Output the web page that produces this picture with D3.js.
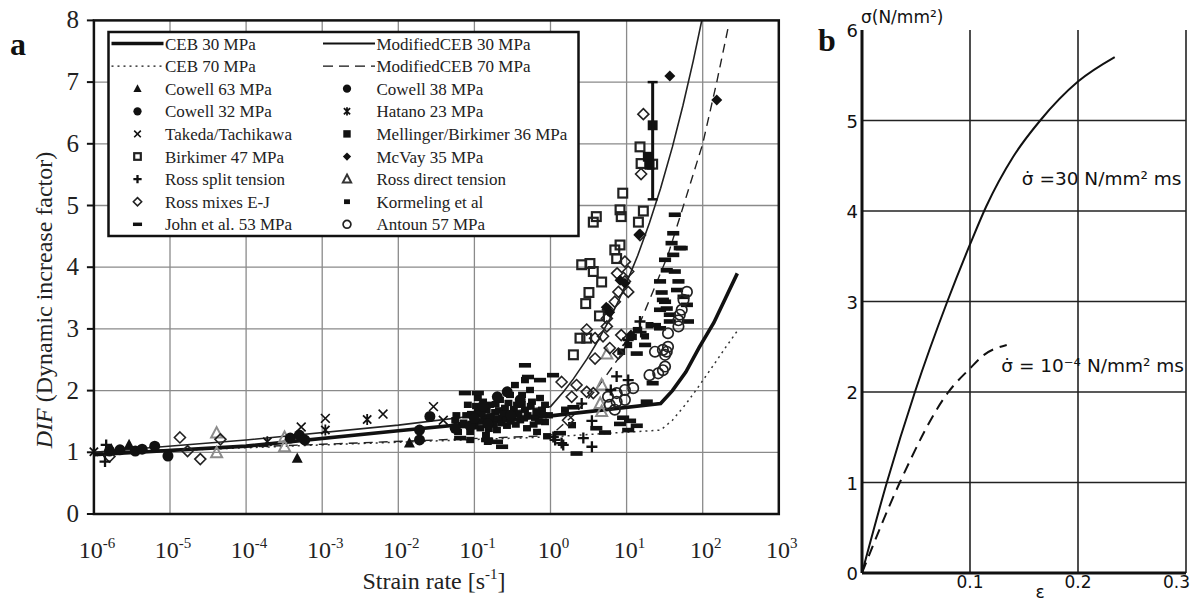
<!DOCTYPE html>
<meta charset="utf-8">
<style>
	body { margin: 0; background: #fff; }
	svg { display: block; }
	.serif { font-family: "Liberation Serif", "Times New Roman", serif; }
	.sans { font-family: "DejaVu Sans", "Liberation Sans", sans-serif; }
</style>
<svg width="1191" height="603"></svg>
<script src="https://d3js.org/d3.v7.min.js"></script>
<script>

// ---------- panel a : DIF vs strain rate, points are [strain rate 1/s, DIF]
var xExps = [-6, -5, -4, -3, -2, -1, 0, 1, 2, 3];
var yTicksA = [0, 1, 2, 3, 4, 5, 6, 7, 8];

var ceb30 = [[1e-6,0.96],[1e-4,1.10],[1e-2,1.35],[1,1.59],[28,1.79],[40,2.0],[60,2.3],[90,2.7],[140,3.1],[200,3.5],[285,3.9]];
var ceb70 = [[1e-6,0.98],[1e-3,1.12],[1,1.25],[28,1.36],[40,1.52],[60,1.78],[90,2.08],[140,2.42],[200,2.7],[290,2.98]];
var modCeb30 = [[1e-6,1.0],[1e-4,1.20],[1e-2,1.44],[1,1.74],[1.5,1.99],[2,2.19],[3,2.51],[4,2.76],[6,3.16],[8,3.48],[10,3.75],[14,4.19],[20,4.72],[28,5.28],[40,5.95],[55,6.62],[75,7.34],[100,8.07]];
var modCeb70 = [[1e-6,1.0],[1e-3,1.13],[1,1.27],[2,1.6],[4,2.02],[8,2.54],[15,3.1],[23,3.65],[35,4.2],[56,5.0],[100,6.0],[153,7.0],[220,7.93]];

var cowell63 = [[1.7e-6,1.05],[2.9e-6,1.12],[4.7e-4,0.90],[1.4e-2,1.15]];
var cowell38 = [[6.3e-6,1.10],[9.4e-6,0.94],[5.0e-4,1.28],[5.9e-4,1.20],[1.9e-2,1.36],[2.6e-2,1.58],[0.27,1.98],[0.20,1.90],[0.1,1.55],[0.13,1.75],[0.3,1.6]];
var cowell32 = [[1.6e-6,1.02],[2.2e-6,1.04],[3.5e-6,1.02],[4.3e-6,1.05],[3.8e-4,1.23],[1.9e-2,1.20],[0.12,1.65],[8.8e-2,1.43],[0.15,1.46],[5.6e-2,1.39],[0.40,1.85]];
var hatano23 = [[1.0e-6,1.01],[1.9e-4,1.17],[1.1e-3,1.36],[3.9e-3,1.53],[10,2.79]];
var takeda = [[5.3e-4,1.41],[1.1e-3,1.55],[6.3e-3,1.62],[2.9e-2,1.74],[3.9e-2,1.52]];
var mellinger36 = [[22,6.30],[19,5.79],[20,5.66]];
var mellingerBar = [22, 5.1, 7.0];   // rate, low, high
var birkimer47 = [[15,5.95],[15.5,5.68],[22,5.67],[8.9,5.20],[8.2,4.93],[8.5,4.82],[16.6,4.91],[14.3,4.73],[4.0,4.82],[3.65,4.73],[7.0,4.28],[8.2,4.36],[7.4,4.14],[2.57,4.04],[3.3,4.06],[3.65,3.93],[4.7,3.76],[3.2,3.59],[2.9,3.41],[4.4,3.21],[2.44,2.85],[2.99,2.85],[2.0,2.58]];
var mcvay35 = [[37,7.10],[153,6.71],[14.6,4.53],[8.2,3.79],[9.5,3.74],[5.4,3.35],[6.0,3.27],[11.4,2.90]];
var rossSplit = [[1.45e-6,1.12],[1.4e-6,0.85],[1.09,1.25],[1.4,1.15],[1.15,1.20],[1.47,1.12],[2.7,1.23],[3.5,1.09],[2.57,1.79],[3.5,1.51],[7.4,2.23],[10.5,2.17],[15,3.12],[15.5,2.95],[10.5,2.82],[6.2,2.01]];
var rossDirect = [[4.1e-5,1.31],[4.1e-5,0.99],[3.2e-4,1.24],[3.2e-4,1.09],[4.7,2.09],[4.5,1.79],[4.7,1.66],[5.5,2.59]];
var rossMixes = [[1.6e-6,0.93],[1.35e-5,1.24],[1.7e-5,1.02],[2.5e-5,0.89],[4.6e-5,1.21],[1.4,2.14],[1.9,1.90],[1.7,1.52],[2.2,2.09],[2.99,1.98],[3.65,1.96],[3.85,2.52],[7.8,2.60],[15,4.52],[9.5,4.09],[7.5,3.90],[10.5,3.93],[9.5,3.77],[10.5,3.60],[7.8,3.60],[7.0,3.44],[5.7,3.31],[5.5,3.17],[5.5,3.04],[2.99,2.99],[3.85,2.85],[4.9,2.88],[8.5,2.90],[6.0,2.69],[16.6,6.48],[15.5,5.51]];
var kormeling = [[6.9e-2,1.44],[7.8e-2,1.60],[8.8e-2,1.33],[9.9e-2,1.52],[0.111,1.69],[0.12,1.39],[0.134,1.56],[0.142,1.28],[0.16,1.77],[0.17,1.49],[0.187,1.65],[0.198,1.36],[0.217,1.85],[0.231,1.56],[0.252,1.72],[0.268,1.43],[0.294,1.93],[0.312,1.60],[0.341,2.09],[0.363,1.77],[0.40,1.52],[0.423,1.93],[0.462,1.69],[0.491,1.39],[0.538,2.01],[0.571,1.82],[0.625,1.56],[0.665,1.33],[0.728,1.88],[0.773,1.69],[0.847,1.49],[0.90,1.26],[0.15,1.17],[8.8e-2,1.20],[5.6e-2,1.52],[6.1e-2,1.33],[0.847,1.77],[0.955,1.60],[0.111,1.88],[8.2e-2,1.77],[0.462,2.17],[1.55,1.69],[1.92,1.44],[10.5,2.74],[12.1,2.87],[13.6,2.98],[8.5,2.63],[17.5,2.88],[20,3.06],
	[0.09,1.62],[0.1,1.42],[0.105,1.75],[0.125,1.5],[0.13,1.82],[0.145,1.68],[0.155,1.38],[0.165,1.58],[0.18,1.45],[0.19,1.78],[0.2,1.55],[0.21,1.68],[0.225,1.47],[0.24,1.62],[0.26,1.53],[0.28,1.8],[0.3,1.5],[0.33,1.7],[0.35,1.45],[0.38,1.62],[0.42,1.78],[0.45,1.55],[0.5,1.6],[0.55,1.75],[0.6,1.45],[0.65,1.65],[0.7,1.5],[0.8,1.6],[0.058,1.6],[0.072,1.48]];
var john53 = [[7.5e-2,1.96],[0.111,1.96],[6.5e-2,1.23],[0.147,1.20],[0.231,1.09],[0.198,1.17],[0.462,2.41],[0.506,2.22],[0.728,2.17],[1.08,2.25],[2.0,1.73],[4.0,1.39],[5.2,1.32],[8.2,1.46],[11.1,1.51],[10.5,1.36],[13.6,1.43],[18.4,1.82],[22,2.12],[2.2,0.98],[1.33,1.31],[13.6,2.60],[39,4.39],[53,4.31],[41,4.20],[32,4.12],[43,3.93],[27.5,3.77],[48,3.77],[28.9,3.59],[46,3.63],[32,3.44],[33.7,3.33],[62,3.39],[37,3.23],[64,3.12],[23.6,3.06],[27.5,3.01],[37,3.12],[56,3.52],[43,4.85],[41,4.55],[50,4.31],[30,3.47],[27.5,3.31],[33.7,3.95],[17.5,2.74],[9.0,1.56]];
var antoun57 = [[5.7,1.90],[7.4,1.96],[9.5,2.01],[12.2,2.04],[7.0,1.69],[9.5,1.85],[7.4,1.82],[6.0,1.77],[20,2.25],[26,2.28],[30,2.33],[23.6,2.63],[33.7,2.63],[62,3.60],[56,3.47],[53,3.31],[50,3.23],[48,3.14],[48,3.04],[35,2.93],[30,2.66],[35,2.71],[32,2.58],[32,2.39]];

// ---------- panel b : stress vs strain, points are [strain, stress N/mm2]
var xTicksB = [0.1, 0.2, 0.3];
var yTicksB = [0, 1, 2, 3, 4, 5, 6];
var fastCurve = [[0,0],[0.023,1],[0.049,2],[0.079,3],[0.1,3.63],[0.115,4.05],[0.14,4.6],[0.165,5],[0.2,5.43],[0.234,5.70]];
var slowCurve = [[0,0],[0.035,1],[0.080,2],[0.1,2.26],[0.113,2.41],[0.134,2.52]];

var svg = d3.select("svg");

// ================= panel a =================
var xA = d3.scaleLog().domain([1e-6, 1e3]).range([93.9, 778.8]);
var yA = d3.scaleLinear().domain([0, 8]).range([514, 20.4]);

svg.append("defs").append("clipPath").attr("id", "clipA")
	.append("rect").attr("x", 93.9).attr("y", 20.4).attr("width", 778.8 - 93.9).attr("height", 514 - 20.4);

var ga = svg.append("g");

// grid
ga.selectAll(".vg").data(xExps.slice(1, -1)).enter().append("line")
	.attr("x1", function(d) { return xA(Math.pow(10, d)); })
	.attr("x2", function(d) { return xA(Math.pow(10, d)); })
	.attr("y1", yA(0)).attr("y2", yA(8))
	.attr("stroke", "#8a8a8a").attr("stroke-width", 1.3);
ga.selectAll(".hg").data(yTicksA.slice(1, -1)).enter().append("line")
	.attr("x1", xA(1e-6)).attr("x2", xA(1e3))
	.attr("y1", function(d) { return yA(d); })
	.attr("y2", function(d) { return yA(d); })
	.attr("stroke", "#8a8a8a").attr("stroke-width", 1.3);

// y ticks
ga.selectAll(".yt").data(yTicksA).enter().append("line")
	.attr("x1", xA(1e-6) - 7).attr("x2", xA(1e-6))
	.attr("y1", function(d) { return yA(d); })
	.attr("y2", function(d) { return yA(d); })
	.attr("stroke", "#111").attr("stroke-width", 2);

var lineA = d3.line()
	.x(function(d) { return xA(d[0]); })
	.y(function(d) { return yA(d[1]); });

var curves = ga.append("g").attr("clip-path", "url(#clipA)");
curves.append("path").attr("d", lineA(ceb70)).attr("fill", "none").attr("stroke", "#333").attr("stroke-width", 1.5).attr("stroke-dasharray", "2,4");
curves.append("path").attr("d", lineA(modCeb70)).attr("fill", "none").attr("stroke", "#222").attr("stroke-width", 1.4).attr("stroke-dasharray", "9,6");
curves.append("path").attr("d", lineA(modCeb30)).attr("fill", "none").attr("stroke", "#222").attr("stroke-width", 1.6);
curves.append("path").attr("d", lineA(ceb30)).attr("fill", "none").attr("stroke", "#111").attr("stroke-width", 3.6);

// marker shapes
function drawMarker(g, type, k) {
	k = k || 1;
	var s = 5.5 * k;
	if (type == "triFill") {
		g.append("path").attr("d", "M0," + (-1.1 * s) + "L" + s + "," + (0.8 * s) + "L" + (-s) + "," + (0.8 * s) + "Z").attr("fill", "#111");
	} else if (type == "triOpen") {
		g.append("path").attr("d", "M0," + (-1.1 * s) + "L" + s + "," + (0.8 * s) + "L" + (-s) + "," + (0.8 * s) + "Z").attr("fill", "none").attr("stroke", k < 1 ? "#333" : "#8c8c8c").attr("stroke-width", 2);
	} else if (type == "circFill") {
		g.append("circle").attr("r", s).attr("fill", "#111");
	} else if (type == "circOpen") {
		g.append("circle").attr("r", s * 0.95).attr("fill", "none").attr("stroke", "#222").attr("stroke-width", 1.7);
	} else if (type == "sqOpen") {
		g.append("rect").attr("x", -0.8 * s).attr("y", -0.8 * s).attr("width", 1.6 * s).attr("height", 1.6 * s).attr("fill", "none").attr("stroke", "#222").attr("stroke-width", 2.2);
	} else if (type == "sqFill") {
		g.append("rect").attr("x", -0.9 * s).attr("y", -0.9 * s).attr("width", 1.8 * s).attr("height", 1.8 * s).attr("fill", "#111");
	} else if (type == "diaFill") {
		g.append("path").attr("d", "M0," + (-s) + "L" + s + ",0L0," + s + "L" + (-s) + ",0Z").attr("fill", "#111");
	} else if (type == "diaOpen") {
		g.append("path").attr("d", "M0," + (-s) + "L" + s + ",0L0," + s + "L" + (-s) + ",0Z").attr("fill", "none").attr("stroke", "#222").attr("stroke-width", 1.6);
	} else if (type == "plus") {
		g.append("path").attr("d", "M" + (-s) + ",0H" + s + "M0," + (-s) + "V" + s).attr("stroke", "#111").attr("stroke-width", 2.3);
	} else if (type == "cross") {
		var c = 0.8 * s;
		g.append("path").attr("d", "M" + (-c) + "," + (-c) + "L" + c + "," + c + "M" + c + "," + (-c) + "L" + (-c) + "," + c).attr("stroke", "#111").attr("stroke-width", 1.6);
	} else if (type == "aster") {
		var a = 0.75 * s;
		g.append("path").attr("d", "M" + (-a) + "," + (-a) + "L" + a + "," + a + "M" + a + "," + (-a) + "L" + (-a) + "," + a + "M0," + (-s) + "V" + s).attr("stroke", "#111").attr("stroke-width", 1.8);
	} else if (type == "dash") {
		g.append("rect").attr("x", -1.1 * s).attr("y", -0.42 * s).attr("width", 2.2 * s).attr("height", 0.84 * s).attr("fill", "#111");
	} else if (type == "rectSmall") {
		g.append("rect").attr("x", -0.72 * s).attr("y", -0.58 * s).attr("width", 1.44 * s).attr("height", 1.16 * s).attr("fill", "#111");
	}
}

var pointSeries = [
	{data: kormeling, m: "rectSmall"},
	{data: john53, m: "dash"},
	{data: rossDirect, m: "triOpen"},
	{data: rossMixes, m: "diaOpen"},
	{data: birkimer47, m: "sqOpen"},
	{data: antoun57, m: "circOpen"},
	{data: rossSplit, m: "plus"},
	{data: takeda, m: "cross"},
	{data: hatano23, m: "aster"},
	{data: cowell32, m: "circFill"},
	{data: cowell38, m: "circFill"},
	{data: cowell63, m: "triFill"},
	{data: mcvay35, m: "diaFill"},
	{data: mellinger36, m: "sqFill"}
];

var pts = ga.append("g");
pointSeries.forEach(function(s) {
	s.data.forEach(function(d) {
		var g = pts.append("g").attr("transform", "translate(" + xA(d[0]) + "," + yA(d[1]) + ")");
		drawMarker(g, s.m, 1);
	});
});

// error bar
var eb = ga.append("g").attr("stroke", "#111");
eb.append("line").attr("x1", xA(mellingerBar[0])).attr("x2", xA(mellingerBar[0]))
	.attr("y1", yA(mellingerBar[1])).attr("y2", yA(mellingerBar[2])).attr("stroke-width", 3);
[mellingerBar[1], mellingerBar[2]].forEach(function(v) {
	eb.append("line").attr("x1", xA(mellingerBar[0]) - 5).attr("x2", xA(mellingerBar[0]) + 5)
		.attr("y1", yA(v)).attr("y2", yA(v)).attr("stroke-width", 2.5);
});

// frame
ga.append("rect").attr("x", xA(1e-6)).attr("y", yA(8))
	.attr("width", xA(1e3) - xA(1e-6)).attr("height", yA(0) - yA(8))
	.attr("fill", "none").attr("stroke", "#111").attr("stroke-width", 2.5);

// legend
var legendRows = [
	[{name: "CEB 30 MPa", line: "thick"}, {name: "ModifiedCEB 30 MPa", line: "thin"}],
	[{name: "CEB 70 MPa", line: "dot"}, {name: "ModifiedCEB 70 MPa", line: "dash"}],
	[{name: "Cowell 63 MPa", m: "triFill"}, {name: "Cowell 38 MPa", m: "circFill"}],
	[{name: "Cowell 32 MPa", m: "circFill"}, {name: "Hatano 23 MPa", m: "aster"}],
	[{name: "Takeda/Tachikawa", m: "cross"}, {name: "Mellinger/Birkimer 36 MPa", m: "sqFill"}],
	[{name: "Birkimer 47 MPa", m: "sqOpen"}, {name: "McVay 35 MPa", m: "diaFill"}],
	[{name: "Ross split tension", m: "plus"}, {name: "Ross direct tension", m: "triOpen"}],
	[{name: "Ross mixes E-J", m: "diaOpen"}, {name: "Kormeling et al", m: "rectSmall"}],
	[{name: "John et al. 53 MPa", m: "dash"}, {name: "Antoun 57 MPa", m: "circOpen"}]
];

var lg = svg.append("g");
lg.append("rect").attr("x", 108.5).attr("y", 32).attr("width", 470).attr("height", 204)
	.attr("fill", "#fff").attr("stroke", "#111").attr("stroke-width", 2.5);
var colX = [{l0: 111.5, l1: 163.5, mk: 137.5, tx: 165}, {l0: 323, l1: 375, mk: 347, tx: 376.5}];
legendRows.forEach(function(row, i) {
	var cy = 43.5 + i * 22.6;
	row.forEach(function(item, j) {
		var c = colX[j];
		if (item.line) {
			var ln = lg.append("line").attr("x1", c.l0).attr("x2", c.l1).attr("y1", cy).attr("y2", cy).attr("stroke", "#111");
			if (item.line == "thick") ln.attr("stroke-width", 3.6);
			if (item.line == "thin") ln.attr("stroke-width", 2);
			if (item.line == "dot") ln.attr("stroke-width", 1.3).attr("stroke-dasharray", "2,4");
			if (item.line == "dash") ln.attr("stroke-width", 1.4).attr("stroke-dasharray", "10,6");
		} else {
			drawMarker(lg.append("g").attr("transform", "translate(" + c.mk + "," + cy + ")"), item.m, 0.75);
		}
		lg.append("text").attr("class", "serif").attr("x", c.tx).attr("y", cy + 6)
			.attr("font-size", 17).attr("fill", "#222").text(item.name);
	});
});

// axis labels
svg.selectAll(".ylab").data(yTicksA).enter().append("text")
	.attr("class", "serif").attr("x", 79).attr("y", function(d) { return yA(d) + 8; })
	.attr("text-anchor", "end").attr("font-size", 25).attr("fill", "#222")
	.text(function(d) { return d; });

xExps.forEach(function(e) {
	var t = svg.append("text").attr("class", "serif")
		.attr("x", xA(Math.pow(10, e)) + 3).attr("y", 558)
		.attr("text-anchor", "middle").attr("font-size", 24).attr("fill", "#222");
	t.append("tspan").text("10");
	t.append("tspan").attr("font-size", 15).attr("dy", -10).text(e);
});

var xt = svg.append("text").attr("class", "serif").attr("x", 434).attr("y", 589)
	.attr("text-anchor", "middle").attr("font-size", 24).attr("fill", "#222");
xt.append("tspan").text("Strain rate [s");
xt.append("tspan").attr("font-size", 15).attr("dy", -10).text("-1");
xt.append("tspan").attr("dy", 10).text("]");

var yt = svg.append("text").attr("class", "serif")
	.attr("transform", "translate(52,300) rotate(-90)")
	.attr("text-anchor", "middle").attr("font-size", 24).attr("fill", "#222");
yt.append("tspan").attr("font-style", "italic").text("DIF");
yt.append("tspan").text(" (Dynamic increase factor)");

svg.append("text").attr("class", "serif").attr("x", 10).attr("y", 55)
	.attr("font-size", 32).attr("font-weight", "bold").attr("fill", "#111").text("a");

// ================= panel b =================
var xB = d3.scaleLinear().domain([0, 0.3]).range([862, 1186]);
var yB = d3.scaleLinear().domain([0, 6]).range([573, 30]);
var gb = svg.append("g");

gb.selectAll(".hb").data(yTicksB.slice(1, -1)).enter().append("line")
	.attr("x1", xB(0)).attr("x2", xB(0.3))
	.attr("y1", function(d) { return yB(d); }).attr("y2", function(d) { return yB(d); })
	.attr("stroke", "#222").attr("stroke-width", 1.6);
gb.selectAll(".vb").data(xTicksB).enter().append("line")
	.attr("x1", function(d) { return xB(d); }).attr("x2", function(d) { return xB(d); })
	.attr("y1", yB(0)).attr("y2", yB(6))
	.attr("stroke", "#222").attr("stroke-width", 1.6);

gb.append("line").attr("x1", xB(0)).attr("x2", xB(0)).attr("y1", yB(0)).attr("y2", yB(6))
	.attr("stroke", "#111").attr("stroke-width", 3);
gb.append("line").attr("x1", xB(0)).attr("x2", xB(0.3)).attr("y1", yB(0)).attr("y2", yB(0))
	.attr("stroke", "#111").attr("stroke-width", 3);

var lineB = d3.line()
	.x(function(d) { return xB(d[0]); })
	.y(function(d) { return yB(d[1]); })
	.curve(d3.curveMonotoneX);

gb.append("path").attr("d", lineB(fastCurve)).attr("fill", "none").attr("stroke", "#111").attr("stroke-width", 2);
gb.append("path").attr("d", lineB(slowCurve)).attr("fill", "none").attr("stroke", "#111").attr("stroke-width", 2).attr("stroke-dasharray", "11,7");

gb.selectAll(".ylb").data(yTicksB).enter().append("text")
	.attr("class", "sans").attr("x", 858).attr("y", function(d) { return yB(d) + 7; })
	.attr("text-anchor", "end").attr("font-size", 18).attr("fill", "#111")
	.text(function(d) { return d; });
gb.selectAll(".xlb").data(xTicksB).enter().append("text")
	.attr("class", "sans")
	.attr("x", function(d, i) { return i == xTicksB.length - 1 ? 1190 : xB(d); })
	.attr("y", 588)
	.attr("text-anchor", function(d, i) { return i == xTicksB.length - 1 ? "end" : "middle"; })
	.attr("font-size", 17).attr("fill", "#111")
	.text(function(d) { return d; });

gb.append("text").attr("class", "sans").attr("x", xB(0.165)).attr("y", 598)
	.attr("text-anchor", "middle").attr("font-size", 17).attr("fill", "#111").text("ε");
gb.append("text").attr("class", "sans").attr("x", 861).attr("y", 23)
	.attr("font-size", 17).attr("fill", "#111").text("σ(N/mm²)");

gb.append("text").attr("class", "sans").attr("x", xB(0.148)).attr("y", yB(4.36) + 7)
	.attr("font-size", 18.5).attr("font-weight", 500).attr("fill", "#111").text("σ̇ =30  N/mm² ms");
gb.append("text").attr("class", "sans").attr("x", xB(0.129)).attr("y", yB(2.30) + 7)
	.attr("font-size", 18.5).attr("font-weight", 500).attr("fill", "#111").text("σ̇ = 10⁻⁴ N/mm² ms");

svg.append("text").attr("class", "serif").attr("x", 818).attr("y", 51)
	.attr("font-size", 32).attr("font-weight", "bold").attr("fill", "#111").text("b");

</script>
